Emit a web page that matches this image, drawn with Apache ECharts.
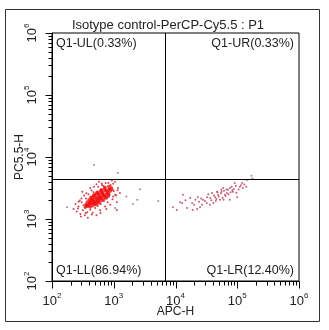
<!DOCTYPE html>
<html>
<head>
<meta charset="utf-8">
<script src="https://cdn.jsdelivr.net/npm/echarts@6/dist/echarts.min.js"></script>
<style>
  html, body { margin: 0; padding: 0; background: #fff; }
  #chart { width: 329px; height: 330px; }
</style>
</head>
<body>
<div id="chart"></div>
<script>
// 1. data (APC-H, PC5.5-H)
const titleText = "Isotype control-PerCP-Cy5.5 : P1";
const xName = "APC-H";
const yName = "PC5.5-H";
const majorTicks = [100, 1000, 10000, 100000, 1000000];
const minorSteps = [2, 3, 4, 5, 6, 7, 8, 9];
const gateX = 6930;
const gateY = 4370;
const quadrantLabels = ["Q1-UL(0.33%)", "Q1-UR(0.33%)", "Q1-LL(86.94%)", "Q1-LR(12.40%)"];

// dense core of the lower-left population
const llCore = [
  [347,1540],[380,1600],[417,1560],[457,1640],[398,1660],[363,1650],
  [355,1720],[390,1700],[427,1780],[468,1740],[513,1690],[562,1800],[407,1810],[490,1800],
  [372,1880],[407,1850],[447,1930],[490,1870],[537,1960],[589,1900],[646,1980],[427,1990],[513,1830],[468,1960],
  [398,2050],[437,2120],[479,2030],[525,2150],[575,2080],[631,2170],[692,2100],[759,2180],[457,2180],[550,2010],[603,2190],
  [427,2250],[468,2330],[513,2220],[562,2380],[617,2280],[676,2360],[741,2240],[813,2330],[490,2390],[589,2200],[708,2400],
  [479,2450],[525,2560],[575,2480],[631,2600],[692,2420],[759,2540],[832,2470],[550,2620],[661,2530],[794,2620],
  [537,2700],[603,2800],[661,2680],[724,2850],[794,2720],[871,2800],[631,2880],
  [631,2950],[708,3080],[776,2920],[851,3050],[933,2980],
  [724,3250],[832,3350],[912,3200]
];

// sparser edge of the lower-left population
const llEdge = [
  [251,1320],[269,1585],[288,1200],[302,1860],[316,1380],[324,1660],[339,1150],[355,2140],
  [372,1290],[390,2510],[417,1410],[437,2880],[457,1260],[479,3310],[501,1510],[525,3630],
  [550,1620],[575,3980],[617,1740],[646,3550],[692,1950],[741,3800],[794,1860],[851,2510],
  [891,3550],[955,2090],[1000,2820],[1047,3980],[1096,2400],[1175,3160],[1259,2630],[933,4170],
  [331,2400],[282,1995],[240,1740],[380,1047],[525,1150],[724,1585],[417,3160],[851,3020],
  [603,1380],[309,2750],[224,1445],[1122,1860],[1050,2450],[1120,1400],[676,3400],[560,3300],
  [263,1480],[295,1100],[350,1250],[440,1180],[610,1250],[760,1450],[880,1700],[980,2300],
  [1150,2900],[980,3700],[820,3800],[640,3750],[470,2700],[360,2600],[300,2150],[270,1900]
];

// scattered events away from the populations
const strayEvents = [
  [175,1550],[2660,3020],[2400,2040],[5250,1950],[2040,1740],[1050,1500],[1600,2300],
  [480,7400],[1170,5500],[170000,5000],[176000,4500]
];

// lower-right population
const lrEvents = [
  [9100,1550],[13200,2450],[12800,1820],[18600,1820],[21000,2040],[23000,2240],[25000,1550],[22400,1450],
  [28000,2040],[32500,2240],[36500,2180],[39000,2630],[44000,2240],[47000,2750],[49000,2450],[52500,2040],
  [56000,2750],[59000,3160],[63000,2450],[68000,2630],[71000,2950],[76000,3160],[81000,3310],[85000,2750],
  [91000,3800],[110000,3310],[120000,3800],[123000,3160],[145000,4270],[100000,2240],[76000,2040],[41000,1820],
  [36000,1700],[32000,1820],[27000,1700],[17300,2180],[15400,1500],[19000,1400],[11800,1860],
  [42000,2400],[46000,2100],[50000,2300],[54000,2600],[58000,2200],[61000,2850],[65000,2350],[72000,2500],
  [78000,2700],[83000,2900],[88000,3050],[95000,3400],[105000,3000],[115000,3500],[130000,3600],[38000,2000],
  [30000,1950],[26000,2150],[34000,2500],[45000,1950],[55000,2950],[67000,3000],[97000,2650],[140000,3300],
  [60000,2050],[24000,1900],[20000,1700],[14500,2000],[10500,1400],[48000,2700]
];

// 2. style
const FONT = "Liberation Sans, Arial, sans-serif";
const TXT = "#222";
const AXIS_MIN = majorTicks[0];
const AXIS_MAX = majorTicks[majorTicks.length - 1];
const MAJOR_LEN = 7, MINOR_LEN = 4;

const minorTicks = [];
majorTicks.slice(0, -1).forEach(d => minorSteps.forEach(k => minorTicks.push(k * d)));

const rich = {
  b: { fontSize: 13, color: TXT, fontFamily: FONT, lineHeight: 16, verticalAlign: "bottom" },
  s: { fontSize: 8, color: TXT, fontFamily: FONT, lineHeight: 8, verticalAlign: "top" }
};
const powLabel = v => "{b|10}{s|" + Math.round(Math.log10(v)) + "}";

function mainAxis(isX) {
  return {
    type: "log", logBase: 10, min: AXIS_MIN, max: AXIS_MAX,
    position: isX ? "bottom" : "left",
    name: isX ? xName : yName,
    nameLocation: "middle",
    nameGap: isX ? 25 : 26,
    nameMoveOverlap: false,
    nameTextStyle: { fontSize: 12, color: TXT, fontFamily: FONT },
    axisLine: { show: true, lineStyle: { color: "#000", width: 1 } },
    axisTick: { show: false },
    axisLabel: { formatter: powLabel, rich: rich, margin: isX ? 11 : 13, rotate: isX ? 0 : 90 },
    splitLine: { show: false }
  };
}

const baseGraphic = [
  { type: "rect", shape: { x: 5.5, y: 9.5, width: 314, height: 312 }, style: { fill: "none", stroke: "#333", lineWidth: 1 }, silent: true },
  { type: "text", left: 56, top: 37, style: { text: quadrantLabels[0], fontSize: 12.5, fill: TXT, fontFamily: FONT } },
  { type: "text", right: 35, top: 37, style: { text: quadrantLabels[1], fontSize: 12.5, fill: TXT, fontFamily: FONT } },
  { type: "text", left: 56, top: 264, style: { text: quadrantLabels[2], fontSize: 12.5, fill: TXT, fontFamily: FONT } },
  { type: "text", right: 35, top: 264, style: { text: quadrantLabels[3], fontSize: 12.5, fill: TXT, fontFamily: FONT } }
];

const chart = echarts.init(document.getElementById("chart"), null, { renderer: "canvas" });

chart.setOption({
  animation: false,
  backgroundColor: "#fff",
  title: {
    text: titleText, left: 163, top: 14, textAlign: "center",
    textStyle: { fontSize: 13, fontWeight: "normal", color: TXT, fontFamily: FONT }
  },
  grid: { left: 52, top: 33, right: 30, bottom: 49, show: true, borderColor: "#000", borderWidth: 1 },
  xAxis: mainAxis(true),
  yAxis: mainAxis(false),
  series: [
    {
      name: "LL edge", type: "scatter", data: llEdge, symbolSize: 2,
      itemStyle: { color: "#c8202a", opacity: 0.85 },
      markLine: {
        silent: true, symbol: "none", label: { show: false },
        lineStyle: { color: "#000", width: 1, type: "solid" },
        data: [{ xAxis: gateX }, { yAxis: gateY }]
      }
    },
    { name: "LL core", type: "scatter", data: llCore, symbolSize: 3.5, itemStyle: { color: "#f01010" } },
    { name: "LR", type: "scatter", data: lrEvents, symbolSize: 2, itemStyle: { color: "#b83a50", opacity: 0.8 } },
    { name: "stray", type: "scatter", data: strayEvents, symbolSize: 2, itemStyle: { color: "#8a7070" } }
  ],
  graphic: baseGraphic
});

// 3. log tick marks (majors + 2..9 minors), placed through the axis scales
const xLineY = Math.round(chart.convertToPixel({ yAxisIndex: 0 }, AXIS_MIN)) + 0.5;
const yLineX = Math.round(chart.convertToPixel({ xAxisIndex: 0 }, AXIS_MIN)) + 0.5;
const tickDefs = majorTicks.map(v => [v, MAJOR_LEN]).concat(minorTicks.map(v => [v, MINOR_LEN]));
const tickGraphic = [];
tickDefs.forEach(([v, len]) => {
  const px = Math.round(chart.convertToPixel({ xAxisIndex: 0 }, v)) + 0.5;
  const py = Math.round(chart.convertToPixel({ yAxisIndex: 0 }, v)) + 0.5;
  tickGraphic.push({ type: "line", silent: true, z: 10, shape: { x1: px, y1: xLineY, x2: px, y2: xLineY + len }, style: { stroke: "#000", lineWidth: 1 } });
  tickGraphic.push({ type: "line", silent: true, z: 10, shape: { x1: yLineX - len, y1: py, x2: yLineX, y2: py }, style: { stroke: "#000", lineWidth: 1 } });
});
chart.setOption({ graphic: baseGraphic.concat(tickGraphic) });
</script>
</body>
</html>
